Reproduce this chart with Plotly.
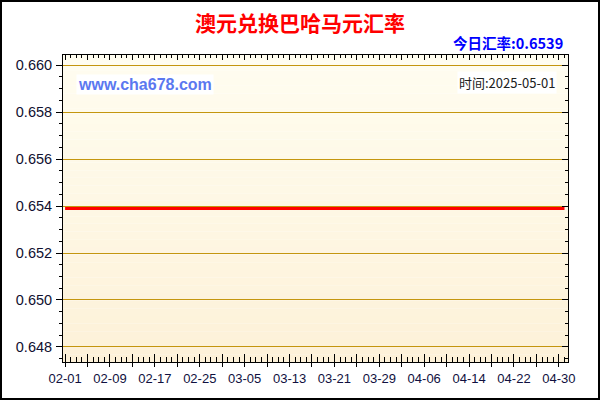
import pandas as pd
import plotly.graph_objects as go

# data: AUD -> BSD daily rate, 2025-02-01 .. 2025-05-01
dates = pd.date_range("2025-02-01", "2025-05-01", freq="D")
rates = [0.6539] * len(dates)

title = "澳元兑换巴哈马元汇率"
today_text = "今日汇率:0.6539"
site_text = "www.cha678.com"
time_text = "时间:2025-05-01"

y_ticks = [0.648, 0.650, 0.652, 0.654, 0.656, 0.658, 0.660]
x_ticks = list(dates[::4])
x_labels = [d.strftime("%m-%d") if i % 2 == 0 else "" for i, d in enumerate(x_ticks)]

x_range = ["2025-01-31 15:00", "2025-05-01 15:00"]
y_range = [0.64736, 0.66043]

W, H = 600, 400
ML, MR, MT, MB = 63, 32, 55, 38
PW, PH = W - ML - MR, H - MT - MB

fig = go.Figure()
fig.add_trace(go.Scatter(x=dates, y=rates, mode="lines",
                         line=dict(color="#FF0000", width=3),
                         hoverinfo="x+y", showlegend=False))

# gradient background made of thin stripes
top_c = (255, 253, 240)
bot_c = (253, 241, 216)
n = 40
shapes = []
for i in range(n):
    t = i / (n - 1)
    c = tuple(round(top_c[k] + (bot_c[k] - top_c[k]) * t) for k in range(3))
    shapes.append(dict(type="rect", xref="paper", yref="paper",
                       x0=0, x1=1, y0=1 - (i + 1) / n, y1=1 - i / n,
                       fillcolor="rgb(%d,%d,%d)" % c, line=dict(width=0),
                       layer="below"))
# outer frame
shapes.append(dict(type="rect", xref="paper", yref="paper",
                   x0=-(ML - 1) / PW, x1=1 + (MR - 1) / PW,
                   y0=-(MB - 1) / PH, y1=1 + (MT - 1) / PH,
                   line=dict(color="black", width=2)))

font = "Liberation Sans, Arial, sans-serif"
cjk = "Noto Sans CJK SC, sans-serif"

fig.update_layout(
    width=W, height=H,
    margin=dict(l=ML, r=MR, t=MT, b=MB),
    paper_bgcolor="white", plot_bgcolor="rgba(0,0,0,0)",
    shapes=shapes,
    showlegend=False,
    xaxis=dict(type="date", range=x_range, tickvals=x_ticks, ticktext=x_labels,
               ticks="outside", ticklen=4, tickcolor="black", tickwidth=1,
               minor=dict(dtick=86400000, ticks="inside", ticklen=5,
                          tickcolor="black", showgrid=False),
               showgrid=False, zeroline=False, showline=True,
               linecolor="black", linewidth=1,
               tickfont=dict(family=font, size=13, color="#101040")),
    xaxis2=dict(type="date", overlaying="x", matches="x", side="bottom",
                anchor="y2",
                tickvals=x_ticks, ticktext=[""] * len(x_ticks),
                ticks="inside", ticklen=8, tickcolor="black",
                showgrid=False, zeroline=False, showline=False),
    xaxis3=dict(type="date", overlaying="x", matches="x", side="top",
                anchor="y2",
                tickvals=x_ticks, ticktext=[""] * len(x_ticks),
                ticks="inside", ticklen=5, tickcolor="black",
                minor=dict(dtick=86400000, ticks="inside", ticklen=3,
                           tickcolor="black"),
                showgrid=False, zeroline=False, showline=True,
                linecolor="black", linewidth=1),
    yaxis=dict(range=y_range, tickvals=y_ticks, tickformat=".3f",
               ticks="outside", ticklen=6, tickcolor="black",
               minor=dict(dtick=0.0005, ticks="outside", ticklen=3,
                          tickcolor="black", showgrid=False),
               showgrid=True, gridcolor="#C4960F", gridwidth=1,
               zeroline=False, showline=True, linecolor="black", linewidth=1,
               ticklabelstandoff=1,
               tickfont=dict(family=font, size=14.5, color="#101030")),
    yaxis2=dict(overlaying="y", matches="y", side="right", anchor="x2",
                tickvals=y_ticks, showticklabels=False,
                ticks="inside", ticklen=6, tickcolor="black",
                minor=dict(dtick=0.0005, ticks="inside", ticklen=3,
                           tickcolor="black"),
                showgrid=False, zeroline=False, showline=True,
                linecolor="black", linewidth=1),
)

# invisible traces to activate the extra axes
fig.add_trace(go.Scatter(x=[dates[0]], y=[rates[0]], xaxis="x2", yaxis="y2",
                         mode="markers", marker=dict(opacity=0),
                         hoverinfo="skip", showlegend=False))
fig.add_trace(go.Scatter(x=[dates[0]], y=[rates[0]], xaxis="x3", yaxis="y2",
                         mode="markers", marker=dict(opacity=0),
                         hoverinfo="skip", showlegend=False))

fig.add_annotation(text="<b>" + title + "</b>", xref="paper", yref="paper",
                   x=(300 - ML) / PW, y=1 + (MT - 22) / PH,
                   xanchor="center", yanchor="middle", showarrow=False,
                   font=dict(family=cjk, size=21, color="#FF0000"))
fig.add_annotation(text="<b>" + today_text + "</b>", xref="paper", yref="paper",
                   x=(565 - ML) / PW, y=1 + (MT - 43) / PH,
                   xanchor="right", yanchor="middle", showarrow=False,
                   font=dict(family=cjk, size=14.5, color="#0000FF"))
fig.add_annotation(text="<b>" + site_text + "</b>", xref="paper", yref="paper",
                   x=(76 - ML) / PW, y=1 - (84 - MT) / PH,
                   xanchor="left", yanchor="middle", showarrow=False,
                   bgcolor="white", borderpad=1,
                   font=dict(family=font, size=16, color="#5B78F0"))
fig.add_annotation(text=time_text, xref="paper", yref="paper",
                   x=(557 - ML) / PW, y=1 - (82 - MT) / PH,
                   xanchor="right", yanchor="middle", showarrow=False,
                   bgcolor="white", borderpad=1,
                   font=dict(family=cjk, size=13, color="#202020"))

fig.write_html("out.html", config={"displayModeBar": False},
               post_script="document.body.style.margin='0';")
